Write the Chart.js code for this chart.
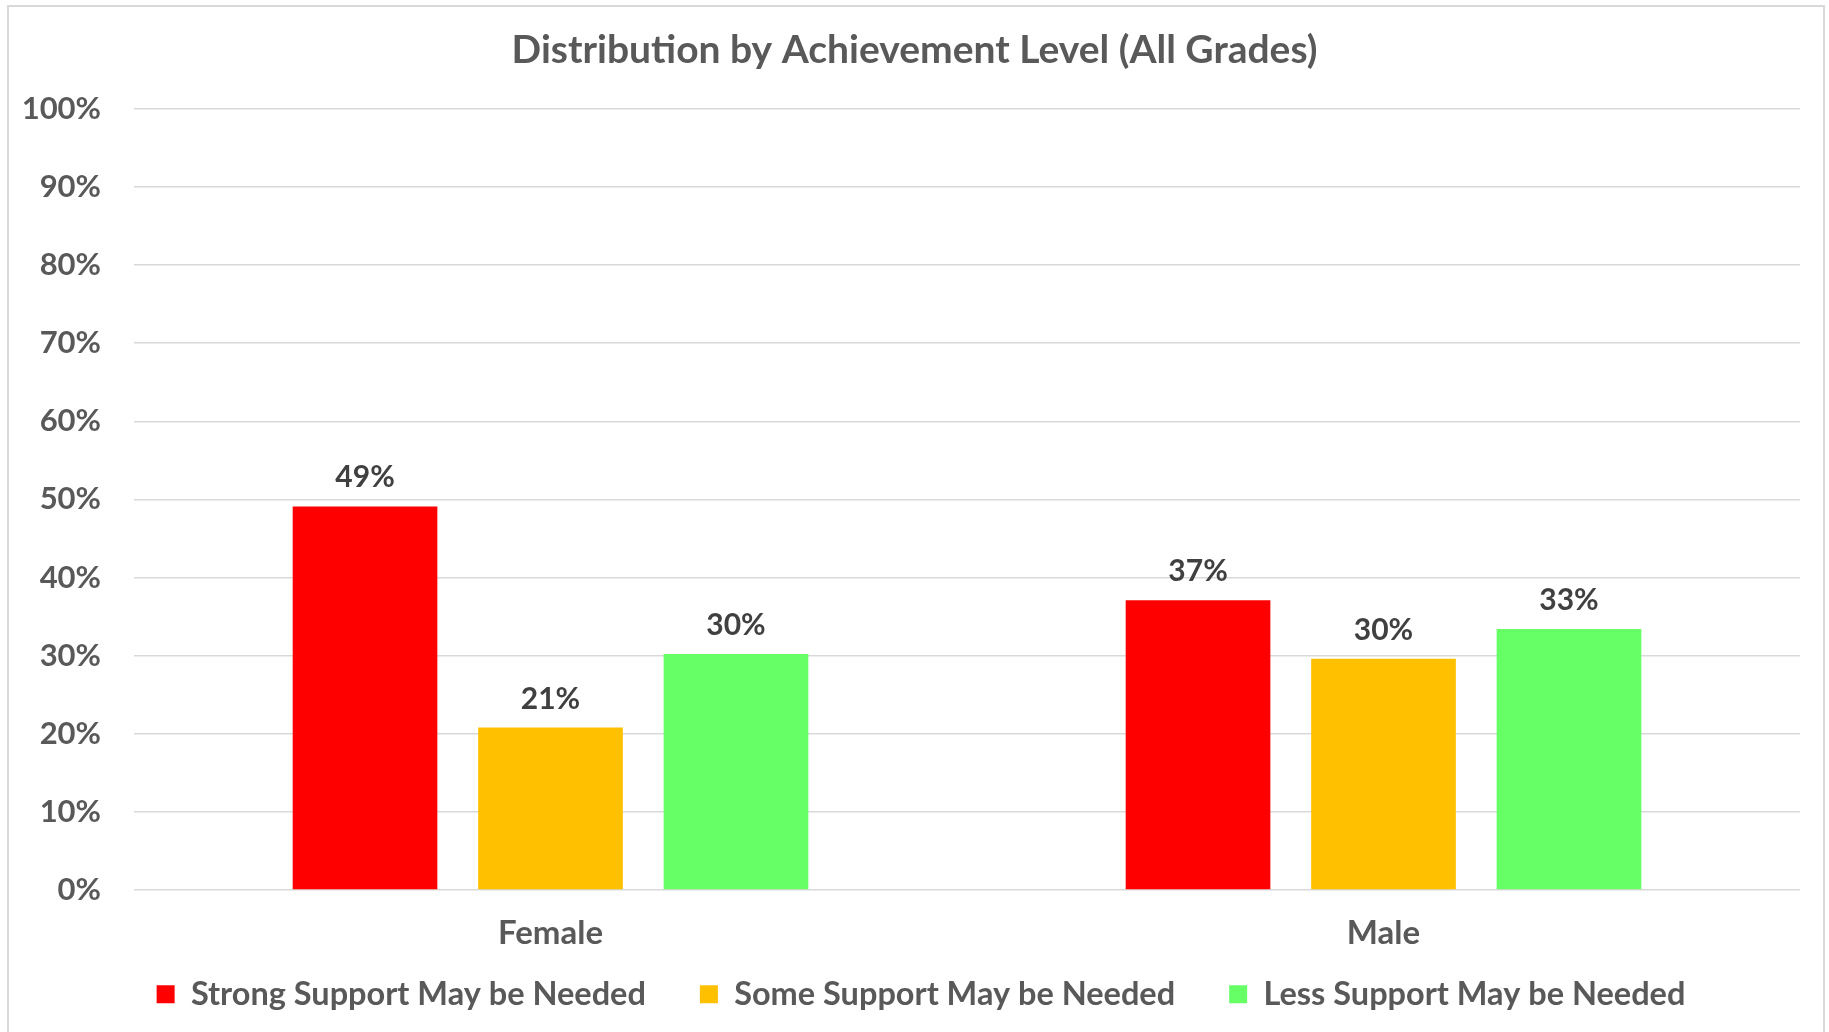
<!DOCTYPE html>
<html>
<head>
<meta charset="utf-8">
<title>Distribution by Achievement Level</title>
<script src="https://cdn.jsdelivr.net/npm/chart.js@4/dist/chart.umd.min.js"></script>
<style>
    html, body { margin: 0; padding: 0; background: #fff; }
    #wrap { position: relative; width: 1829px; height: 1032px; overflow: hidden; }
    #wrap canvas { position: absolute; left: 0; top: 0; }
    #frame {
        position: absolute; left: 7px; top: 5px; width: 1818px; height: 1100px;
        box-sizing: border-box; border: 2px solid #d9d9d9; pointer-events: none;
    }
</style>
</head>
<body>
<div id="wrap">
    <canvas id="chart" width="1829" height="1032"></canvas>
    <div id="frame"></div>
</div>
<script>
// ================= DATA =================
const categories = ["Female", "Male"];
const seriesNames = [
    "Strong Support May be Needed",
    "Some Support May be Needed",
    "Less Support May be Needed"
];
const strongSupport = [49.1, 37.1];
const someSupport = [20.8, 29.6];
const lessSupport = [30.2, 33.4];
const seriesColors = ["#FF0000", "#FFC000", "#66FF66"];
const yTickValues = [0, 10, 20, 30, 40, 50, 60, 70, 80, 90, 100];

const FONT = "Lato";
const TEXT_GREY = "#595959";
const LABEL_DARK = "#404040";

// ================= VALUE LABELS ABOVE BARS =================
const barLabels = {
    id: "barLabels",
    afterDatasetsDraw(chart) {
        const ctx = chart.ctx;
        ctx.save();
        ctx.font = `bold 30px ${FONT}`;
        ctx.fillStyle = LABEL_DARK;
        ctx.textAlign = "center";
        ctx.textBaseline = "alphabetic";
        chart.data.datasets.forEach((ds, i) => {
            chart.getDatasetMeta(i).data.forEach((bar, j) => {
                ctx.fillText(Math.round(ds.data[j]) + "%", bar.x, bar.y - 19);
            });
        });
        ctx.restore();
    }
};

// legend keeps wide item spacing (padding) but sits closer to the axis labels;
// title and legend are centred on the whole canvas
const blockTweaks = {
    id: "blockTweaks",
    afterLayout(chart) {
        chart.legend.top -= 53;
        chart.legend.left = 13;
        chart.legend.right = 1829;
        chart.titleBlock.left = 0;
        chart.titleBlock.right = 1829;
    }
};

// ================= CHART =================
const values = [strongSupport, someSupport, lessSupport];

new Chart(document.getElementById("chart").getContext("2d"), {
    type: "bar",
    data: {
        labels: categories,
        datasets: seriesNames.map((name, i) => ({
            label: name,
            data: values[i],
            backgroundColor: seriesColors[i],
            borderWidth: 0,
            categoryPercentage: 0.668,
            barPercentage: 0.78
        }))
    },
    options: {
        responsive: false,
        animation: false,
        layout: { padding: { left: 16, right: 29, top: 0, bottom: 0 } },
        scales: {
            x: {
                grid: { display: false, drawTicks: false },
                border: { display: false },
                ticks: {
                    color: TEXT_GREY,
                    font: { family: FONT, size: 33, weight: "bold", lineHeight: 1 },
                    padding: 27
                }
            },
            y: {
                min: 0,
                max: 100,
                afterBuildTicks: axis => {
                    axis.ticks = yTickValues.map(v => ({ value: v }));
                },
                afterFit: axis => { axis.width = 118; },
                grid: { color: "#d9d9d9", lineWidth: 1.5, drawTicks: false },
                border: { display: false },
                ticks: {
                    color: TEXT_GREY,
                    font: { family: FONT, size: 31, weight: "bold" },
                    padding: 33,
                    callback: v => v + "%"
                }
            }
        },
        plugins: {
            title: {
                display: true,
                text: "Distribution by Achievement Level (All Grades)",
                color: TEXT_GREY,
                font: { family: FONT, size: 39, weight: "bold" },
                padding: { top: 27, bottom: 35 }
            },
            legend: {
                position: "bottom",
                maxHeight: 55,
                labels: {
                    color: TEXT_GREY,
                    font: { family: FONT, size: 32.5, weight: "bold" },
                    boxWidth: 18,
                    boxHeight: 18,
                    padding: 54
                }
            },
            tooltip: { enabled: false }
        }
    },
    plugins: [barLabels, blockTweaks]
});
</script>
</body>
</html>
